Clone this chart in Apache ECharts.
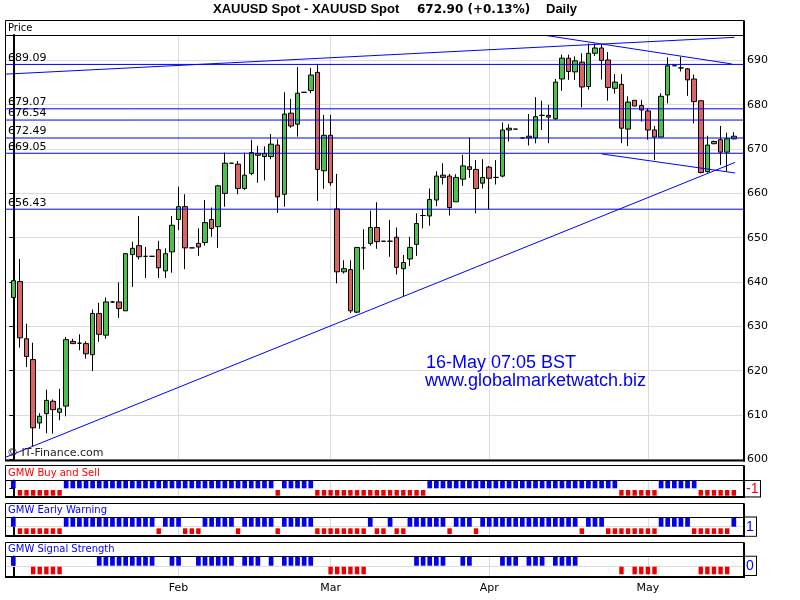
<!DOCTYPE html>
<html><head><meta charset="utf-8">
<script src="https://cdn.jsdelivr.net/npm/echarts@6/dist/echarts.min.js"></script>
<style>html,body{margin:0;padding:0;background:#fff}#chart{width:800px;height:600px}</style>
</head><body><div id="chart"></div>
<script>
// ---------- DATA ----------
const symbolName = 'XAUUSD Spot';
const lastPrice = 672.90;
const changePct = 0.13;
const period = 'Daily';
const stamp = '16-May 07:05 BST';
const site = 'www.globalmarketwatch.biz';

const opens = [
636.5,640.1,627.2,622.5,608.2,610.3,613.1,610.6,612.0,626.6,
626.2,626.1,623.6,632.9,628.0,635.5,635.5,633.5,646.2,648.2,
645.8,645.8,647.3,642.5,646.8,654.1,657.0,647.7,648.7,648.9,
654.1,652.5,660.0,666.8,666.6,661.1,664.5,669.0,668.3,668.3,
670.9,659.8,678.1,675.6,682.8,683.2,687.3,665.1,673.1,656.5,
642.3,642.8,633.2,647.7,648.7,652.3,649.2,649.2,650.1,643.0,
645.2,648.5,655.0,654.9,658.5,664.1,663.9,658.1,663.2,666.0,
665.4,662.3,665.9,663.6,663.9,674.3,674.5,672.5,672.5,672.5,
677.6,677.6,676.8,685.8,690.5,687.4,689.6,684.1,691.6,692.8,
690.1,683.7,684.6,674.5,681.0,679.8,678.6,674.3,672.7,682.2,
688.8,688.3,688.1,685.8,680.9,664.9,671.2,672.1,669.3,672.3];
const closes = [
640.3,627.4,623.2,607.1,609.7,613.3,611.2,611.4,627.0,626.1,
626.2,623.8,632.9,628.2,635.5,635.5,634.0,646.4,647.6,645.7,
645.8,645.8,643.2,646.4,652.8,657.0,647.7,647.7,647.9,653.4,
652.1,661.7,666.8,666.8,661.1,664.1,669.2,668.6,669.0,671.1,
659.2,677.9,675.2,682.6,682.8,686.7,665.4,673.1,662.4,642.3,
643.0,633.5,647.8,647.7,652.3,649.1,649.2,649.2,643.3,644.4,
647.8,653.2,655.0,658.6,663.9,663.6,656.8,663.6,666.2,665.4,
661.1,663.6,663.4,663.6,674.3,674.7,674.5,672.5,672.9,677.3,
677.6,677.2,685.1,690.5,687.5,689.9,684.0,691.6,692.8,690.0,
683.9,685.1,674.7,680.6,679.7,678.8,674.3,672.7,681.9,688.8,
688.8,688.3,685.6,680.7,664.7,670.9,671.7,669.3,672.3,672.9];
const lows = [
635.9,625.2,620.8,602.9,606.9,605.9,605.8,608.8,609.7,626.1,
624.6,622.7,619.9,626.5,627.2,635.3,631.9,633.5,638.9,645.1,
640.9,645.8,640.9,640.9,642.1,651.7,642.9,647.7,645.9,648.2,
650.2,647.7,657.0,666.8,659.8,660.8,664.1,662.4,662.9,667.7,
655.6,657.0,674.8,672.8,682.8,682.6,658.3,661.0,661.7,639.7,
641.9,633.0,633.0,642.8,648.2,647.5,649.2,645.7,641.7,636.8,
643.6,645.9,652.1,652.7,657.1,662.0,655.0,658.1,661.7,663.5,
655.5,661.1,656.4,662.0,663.6,671.7,674.5,672.5,670.8,671.3,
674.3,671.3,676.6,683.1,685.6,685.6,679.4,683.4,691.0,685.7,
680.9,682.5,671.3,670.7,679.7,676.2,672.1,667.5,672.7,680.3,
688.8,687.5,682.0,675.8,664.5,664.7,671.1,666.4,664.9,672.2];
const highs = [
641.3,645.2,630.6,626.3,610.4,615.7,613.5,615.9,627.6,627.2,
628.2,626.6,633.8,635.3,636.5,635.7,639.9,646.4,649.1,654.9,
647.9,645.8,649.3,647.6,654.9,661.5,659.8,647.7,652.1,658.5,
656.8,661.9,669.2,666.8,667.3,669.2,672.1,670.7,670.6,673.4,
672.2,682.8,681.3,688.5,682.8,688.3,689.0,677.7,677.7,664.4,
644.9,644.9,647.8,651.9,656.1,658.0,649.2,654.0,652.3,646.1,
650.2,655.5,656.4,661.1,665.0,666.8,664.4,664.3,668.7,672.6,
667.5,667.7,666.2,667.5,676.0,675.6,674.5,672.5,677.9,681.7,
680.9,680.0,685.8,691.3,691.3,690.9,691.6,693.8,693.8,693.5,
691.9,686.9,686.9,681.9,681.0,681.1,679.2,675.2,682.6,690.7,
688.8,690.8,688.3,686.8,680.9,673.0,671.9,675.2,673.7,673.8];

const levels = [689.09, 679.07, 676.54, 672.49, 669.05, 656.43];
// trend lines: [[barIndex, price], [barIndex, price]]
const trendLines = [
  [[-1.1, 686.9], [109.1, 695.2]],
  [[80.7, 695.6], [108.7, 689.2]],
  [[89.0, 668.9], [109.2, 664.6]],
  [[-1.1, 600.5], [109.2, 667.0]]
];
const monthTicks = [25, 48, 72, 96];
const monthLabels = ['Feb', 'Mar', 'Apr', 'May'];

const buySell = [
1,-1,-1,-1,-1,-1,-1,-1,1,1,
1,1,1,1,1,1,1,1,1,1,
1,1,1,1,1,1,1,1,1,1,
1,1,1,1,1,1,1,1,1,1,
-1,1,1,1,1,1,-1,-1,-1,-1,
-1,-1,-1,-1,-1,-1,-1,-1,-1,-1,
-1,-1,-1,1,1,1,1,1,1,1,
1,1,1,1,1,1,1,1,1,1,
1,1,1,1,1,1,1,1,1,1,
1,1,-1,-1,-1,-1,-1,-1,1,1,
1,1,1,1,-1,-1,-1,-1,-1,-1];
const earlyWarning = [
1,-1,-1,-1,-1,-1,-1,-1,1,1,
1,1,1,1,1,1,1,1,1,1,
1,1,-1,1,1,1,-1,-1,-1,1,
1,1,1,1,-1,1,1,1,1,1,
-1,1,1,1,1,1,-1,-1,-1,-1,
-1,-1,-1,-1,1,-1,-1,1,-1,-1,
1,1,1,1,1,1,-1,1,1,1,
-1,1,1,1,1,1,1,1,1,1,
1,1,1,1,1,1,-1,1,1,1,
-1,-1,-1,-1,-1,-1,-1,-1,1,1,
1,1,1,-1,-1,-1,-1,-1,-1,1];
const signalStrength = [
1,0,0,-1,-1,-1,-1,-1,0,0,
0,0,0,1,1,1,1,1,1,1,
1,1,0,0,1,1,0,0,1,1,
1,1,1,1,0,1,1,1,0,1,
0,1,1,1,1,1,0,0,-1,-1,
-1,-1,-1,-1,0,0,0,0,0,0,
0,1,1,1,1,1,0,0,1,1,
0,0,0,0,1,1,1,0,1,1,
1,0,1,1,1,1,0,0,0,0,
0,0,-1,0,-1,-1,-1,-1,0,0,
0,0,0,0,-1,-1,-1,-1,-1,0];

// ---------- STYLE / LAYOUT ----------
const GREEN = '#4cc24c', RED = '#dc6464';
const BLUE = '#0000ff', SIG_BLUE = '#0000ee', SIG_RED = '#ee0000';
const GRID_GRAY = '#dcdcdc';
const X_MIN = -1.104, X_MAX = 110.54;
const SMALL = '"DejaVu Sans", sans-serif';

const N = closes.length;
const candleData = opens.map((o, i) => [i, o, closes[i], lows[i], highs[i]]);

const panels = [
  {name: 'GMW Buy and Sell', values: buySell, color: '#ff0000', top: 480.5, height: 16, min: -1.874, max: 1.958,
   blue: [4.7, 7.6], red: [4.4, 5.7], zero: false, boxTop: 465.5, header: 480.5, bottom: 497, headerY: 473.3, lblW: 13, lblH: 13.5},
  {name: 'GMW Early Warning', values: earlyWarning, color: '#0000ff', top: 517.5, height: 18.5, min: -2.084, max: 2.05,
   blue: [4.7, 9], red: [4.4, 5.7], zero: true, boxTop: 503.5, header: 517.5, bottom: 536, headerY: 510.8, lblW: 9, lblH: 16.3},
  {name: 'GMW Signal Strength', values: signalStrength, color: '#0000ff', top: 556.5, height: 20, min: -2.29, max: 2.011,
   blue: [4.7, 9], red: [4.4, 7.6], zero: true, boxTop: 542.5, header: 556.5, bottom: 577, headerY: 549.2, lblW: 9, lblH: 16.3}
];

function frame(top, header, bottom) {
  return [
    {type: 'rect', shape: {x: 5.5, y: top, width: 738.5, height: bottom - top}, style: {fill: 'none', stroke: '#000', lineWidth: 1}, z: 100, silent: true},
    {type: 'line', shape: {x1: 5.5, y1: header, x2: 744, y2: header}, style: {stroke: '#000', lineWidth: 1}, z: 100, silent: true},
    {type: 'line', shape: {x1: 5, y1: bottom, x2: 745, y2: bottom}, style: {stroke: '#000', lineWidth: 2}, z: 100, silent: true},
    {type: 'line', shape: {x1: 744, y1: top, x2: 744, y2: bottom + 1}, style: {stroke: '#000', lineWidth: 2}, z: 100, silent: true}
  ];
}
function txt(text, x, y, font, fill, extra) {
  return Object.assign({type: 'text', x: x, y: y, z: 101, silent: true,
    style: {text: text, font: font, fill: fill, align: 'left', verticalAlign: 'middle'}}, extra || {});
}

const graphics = [].concat(
  frame(20.5, 35.5, 460.5),
  frame(panels[0].boxTop, panels[0].header, panels[0].bottom),
  frame(panels[1].boxTop, panels[1].header, panels[1].bottom),
  frame(panels[2].boxTop, panels[2].header, panels[2].bottom),
  [
    {type: 'rect', shape: {x: 746, y: 462.5, width: 54, height: 3}, style: {fill: '#fff'}, z: 99, silent: true},
    txt(symbolName + ' - ' + symbolName, 213, 9.5, 'bold 13px "Liberation Sans", sans-serif', '#000'),
    txt(lastPrice.toFixed(2) + ' (' + (changePct >= 0 ? '+' : '') + changePct.toFixed(2) + '%)', 417, 9.5, 'bold 12px "DejaVu Sans", sans-serif', '#000'),
    txt(period, 546, 9.5, 'bold 13px "Liberation Sans", sans-serif', '#000'),
    txt('Price', 8, 28.3, '10px ' + SMALL, '#000'),
    txt(stamp, 426, 362.7, '18px "Liberation Sans", sans-serif', '#0000ee'),
    txt(site, 425, 380.7, '18px "Liberation Sans", sans-serif', '#0000ee'),
    txt('\u00a9 IT-Finance.com', 7, 453.5, '11px ' + SMALL, '#222')
  ],
  panels.map(p => txt(p.name, 8, p.headerY, '10px ' + SMALL, p.color))
);

const grids = [{left: 6, right: 56, top: 35, height: 424.3}].concat(
  panels.map(p => ({left: 6, right: 56, top: p.top, height: p.height})));

const xAxes = grids.map((g, k) => ({
  type: 'value', gridIndex: k, min: X_MIN, max: X_MAX,
  axisLine: {show: false}, splitLine: {show: false},
  axisTick: k === 3 ? {show: true, customValues: monthTicks, length: 5, lineStyle: {color: '#000'}} : {show: false},
  axisLabel: k === 3 ? {show: true, customValues: monthTicks, margin: 6,
    formatter: v => monthLabels[monthTicks.indexOf(v)], color: '#000', fontSize: 11, fontFamily: SMALL} : {show: false}
}));

const yAxes = [{
  type: 'value', gridIndex: 0, position: 'right', min: 600, max: 695.73, interval: 10,
  axisLine: {show: true, lineStyle: {color: '#000', width: 2}},
  axisTick: {show: true, inside: true, length: 4, lineStyle: {color: '#000'}},
  axisLabel: {show: true, margin: 3, color: '#000', fontSize: 11, fontFamily: SMALL, showMaxLabel: false},
  splitLine: {show: true, lineStyle: {color: GRID_GRAY, width: 1}}
}].concat(panels.map((p, k) => {
  const cur = p.values[N - 1];
  return {
    type: 'value', gridIndex: k + 1, position: 'right', min: p.min, max: p.max,
    axisLine: {show: true, lineStyle: {color: '#000', width: 2}},
    axisTick: {show: true, inside: true, length: 4, customValues: [0], lineStyle: {color: '#000'}},
    axisLabel: {show: true, customValues: [0], margin: 1, formatter: () => String(cur),
      color: cur < 0 ? '#ff0000' : '#0000ff', fontSize: 14, fontFamily: '"Liberation Sans", sans-serif',
      backgroundColor: '#fff', borderColor: '#000', borderWidth: 1, padding: [1, 1],
      width: p.lblW, height: p.lblH, lineHeight: p.lblH, align: 'left'},
    splitLine: {show: false}
  };
}));

const series = [];
// vertical month grid lines (behind marks)
grids.forEach((g, k) => {
  const ml = monthTicks.map(t => ({xAxis: t}));
  if (k >= 1 && panels[k - 1].zero) ml.push({yAxis: 0});
  series.push({type: 'line', xAxisIndex: k, yAxisIndex: k, data: [], silent: true,
    markLine: {silent: true, z: 1, symbol: ['none', 'none'], label: {show: false},
      lineStyle: {color: GRID_GRAY, width: 1, type: 'solid'}, animation: false, data: ml}});
});
// candles (+ last-price tag)
series.push({
  type: 'candlestick', xAxisIndex: 0, yAxisIndex: 0, data: candleData, barWidth: 5, silent: true,
  itemStyle: {color: GREEN, color0: RED, borderColor: '#000', borderColor0: '#000', borderWidth: 1},
  markLine: {
    silent: true, symbol: ['none', 'none'], animation: false,
    data: [{
      yAxis: lastPrice, lineStyle: {opacity: 0},
      label: {show: true, position: 'end', distance: 1, formatter: lastPrice.toFixed(1), color: '#000', fontSize: 12,
        fontFamily: SMALL, backgroundColor: '#ffc000', borderColor: '#000', borderWidth: 1, padding: [3, 2, 2, 2]}
    }]
  }
});
// horizontal level lines with their value labels at the left end
levels.forEach(v => series.push({
  type: 'line', xAxisIndex: 0, yAxisIndex: 0, silent: true, z: 4, clip: false,
  symbol: 'circle', symbolSize: 0, showSymbol: true,
  lineStyle: {color: BLUE, width: 1},
  data: [
    {value: [X_MIN, v], label: {show: true, position: [2, -12], formatter: v.toFixed(2),
      color: '#000', fontSize: 11, fontFamily: SMALL}},
    {value: [X_MAX, v], label: {show: false}}
  ]
}));
// trend lines
trendLines.forEach(seg => series.push({
  type: 'line', xAxisIndex: 0, yAxisIndex: 0, data: seg, symbol: 'none', silent: true, z: 4,
  lineStyle: {color: BLUE, width: 1}
}));
// indicator squares
panels.forEach((p, k) => {
  series.push({
    type: 'scatter', xAxisIndex: k + 1, yAxisIndex: k + 1, silent: true, symbol: 'rect',
    data: p.values.map((v, i) => [i, v]).filter(d => d[1] !== 0),
    symbolSize: val => (val[1] > 0 ? p.blue : p.red),
    itemStyle: {color: prm => (prm.value[1] > 0 ? SIG_BLUE : SIG_RED), opacity: 1}
  });
});

const chart = echarts.init(document.getElementById('chart'));
chart.setOption({
  animation: false,
  backgroundColor: '#ffffff',
  grid: grids,
  xAxis: xAxes,
  yAxis: yAxes,
  series: series,
  graphic: {elements: graphics}
});
</script>
</body></html>
